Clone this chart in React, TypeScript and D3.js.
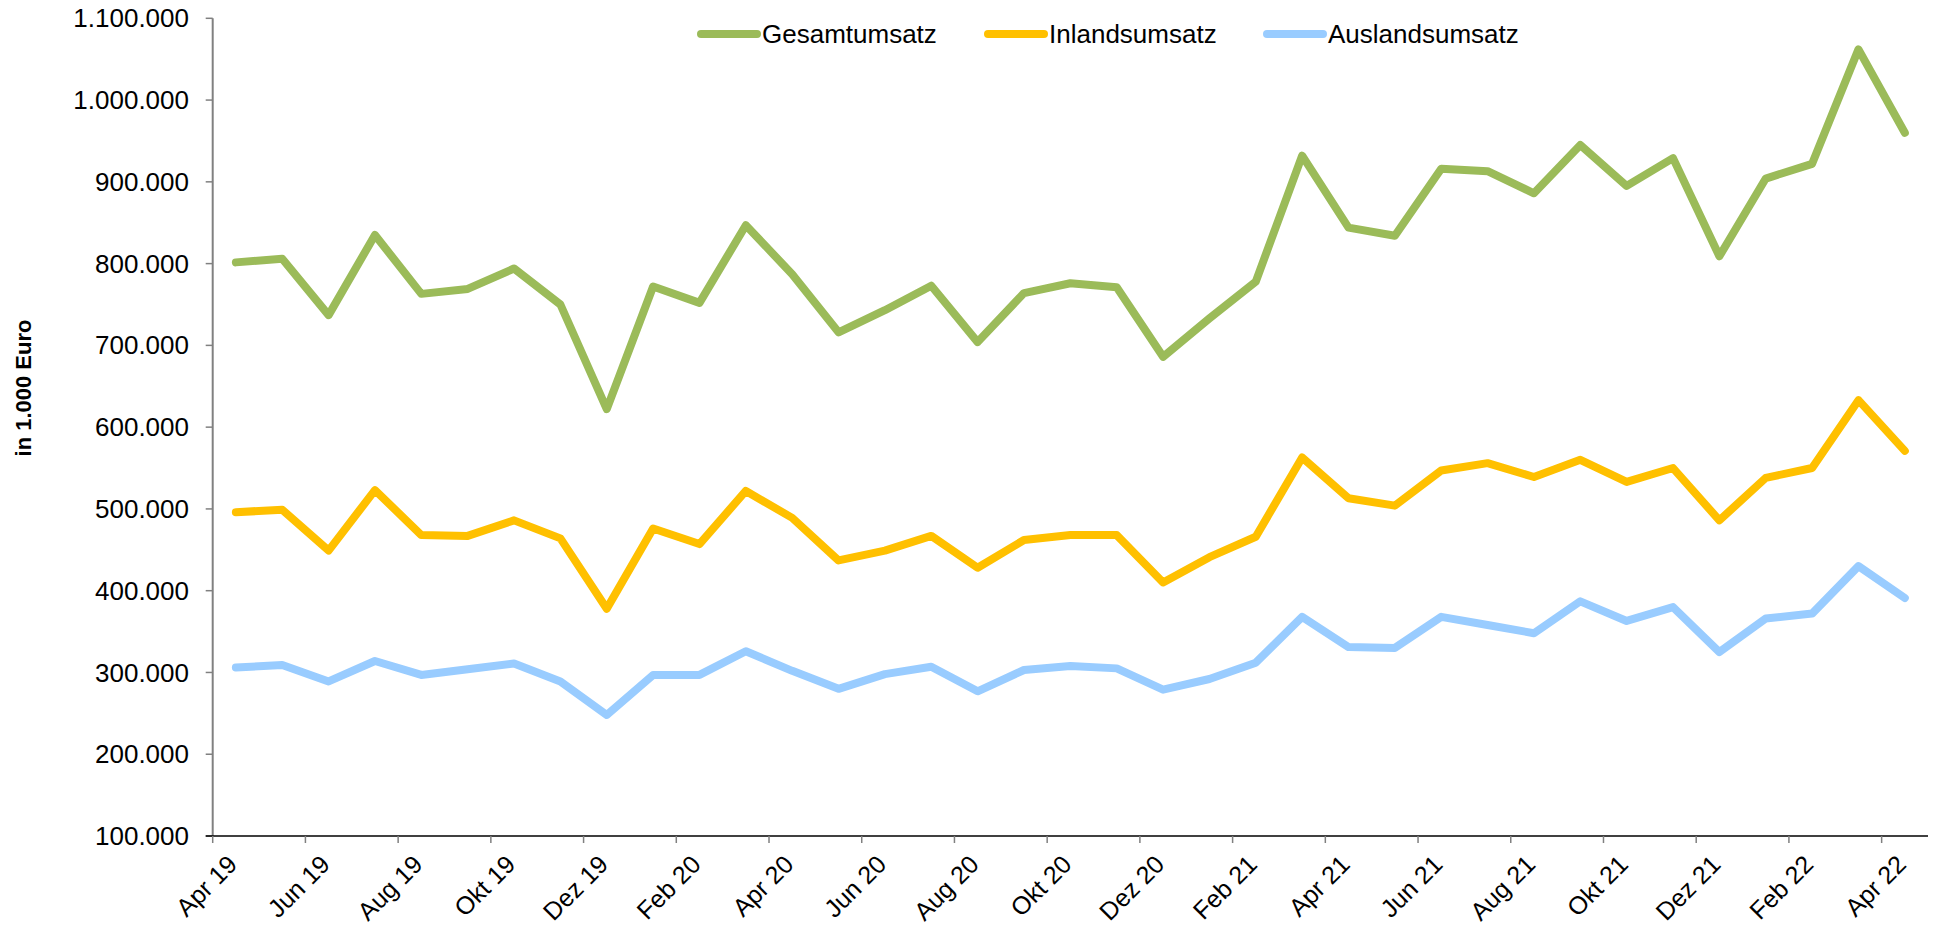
import React from "react";
import * as d3 from "d3";

const months = [
  "Apr 19","Mai 19","Jun 19","Jul 19","Aug 19","Sep 19","Okt 19","Nov 19","Dez 19",
  "Jan 20","Feb 20","Mär 20","Apr 20","Mai 20","Jun 20","Jul 20","Aug 20","Sep 20","Okt 20","Nov 20","Dez 20",
  "Jan 21","Feb 21","Mär 21","Apr 21","Mai 21","Jun 21","Jul 21","Aug 21","Sep 21","Okt 21","Nov 21","Dez 21",
  "Jan 22","Feb 22","Mär 22","Apr 22",
];

const gesamtumsatz = [
  801.5, 806, 737, 835, 763, 769, 794, 750, 622,
  772, 752, 847, 787, 716, 743, 773, 704, 764, 776, 771, 686,
  733, 778, 932, 844, 834, 916, 913, 886, 945, 895, 929, 809,
  904, 922, 1062, 960,
].map((v) => v * 1000);

const inlandsumsatz = [
  496, 499, 449, 523, 468, 467, 486, 464, 378,
  476, 457, 522, 489, 437, 449, 467, 428, 462, 468, 468, 410,
  441, 466, 563, 513, 504, 547, 556, 539, 560, 533, 550, 486,
  538, 550, 633, 571,
].map((v) => v * 1000);

const auslandsumsatz = [
  306, 309, 289, 314, 297, 304, 311, 289, 248,
  297, 297, 326, 302, 280, 298, 307, 277, 303, 308, 305, 279,
  292, 312, 368, 331, 330, 368, 358, 348, 387, 363, 380, 325,
  366, 372, 430, 391,
].map((v) => v * 1000);

const yTicks = [100000, 200000, 300000, 400000, 500000, 600000, 700000, 800000, 900000, 1000000, 1100000];
const seriesNames = ["Gesamtumsatz", "Inlandsumsatz", "Auslandsumsatz"];
const seriesColors = ["#9BBB59", "#FFC000", "#99CCFF"];

const W = 1933;
const H = 929;
const left = 212.7;
const right = 1928;
const top = 18.3;
const bottom = 836;

const fmtDe = (v: number) => {
  const s = Math.round(v).toString();
  return s.replace(/\B(?=(\d{3})+(?!\d))/g, ".");
};

export default function App() {
  const x = d3.scaleBand<string>().domain(months).range([left, right]).paddingInner(0).paddingOuter(0);
  const y = d3.scaleLinear().domain([100000, 1100000]).range([bottom, top]);
  const line = d3
    .line<number>()
    .x((_, i) => (x(months[i]) as number) + x.bandwidth() / 2)
    .y((d) => y(d));
  const allSeries = [gesamtumsatz, inlandsumsatz, auslandsumsatz];
  const font = "Liberation Sans, Arial, sans-serif";
  const labelIdx = months.map((_, i) => i).filter((i) => i % 2 === 0);
  const legendX = [701, 988, 1267];

  return (
    <svg
      width={W}
      height={H}
      style={{ position: "fixed", left: 0, top: 0, background: "#fff" }}
      fontFamily={font}
    >
      {/* y axis */}
      <line x1={left} x2={left} y1={top} y2={bottom} stroke="#808080" strokeWidth={2} />
      {yTicks.map((t) => (
        <g key={t}>
          <line x1={left - 7} x2={left} y1={y(t)} y2={y(t)} stroke="#808080" strokeWidth={1.5} />
          <text x={189} y={y(t)} dy="0.35em" textAnchor="end" fontSize={26} fill="#000">
            {fmtDe(t)}
          </text>
        </g>
      ))}
      {/* x axis */}
      <line x1={left - 7} x2={right} y1={bottom} y2={bottom} stroke="#000" strokeWidth={1.5} />
      {labelIdx.map((i) => {
        const tx = x(months[i]) as number;
        return (
          <g key={i}>
            <line x1={tx} x2={tx} y1={bottom} y2={bottom + 7} stroke="#808080" strokeWidth={1.5} />
            <text
              transform={`translate(${tx + 26},${bottom + 30}) rotate(-45)`}
              textAnchor="end"
              fontSize={25}
              fill="#000"
            >
              {months[i]}
            </text>
          </g>
        );
      })}
      {/* y title */}
      <text
        transform={`translate(${31},${388}) rotate(-90)`}
        textAnchor="middle"
        fontSize={22}
        fontWeight="bold"
        fill="#000"
      >
        in 1.000 Euro
      </text>
      {/* lines */}
      {allSeries.map((s, k) => (
        <path
          key={k}
          d={line(s) || ""}
          fill="none"
          stroke={seriesColors[k]}
          strokeWidth={8}
          strokeLinejoin="round"
          strokeLinecap="round"
        />
      ))}
      {/* legend */}
      {seriesNames.map((n, k) => (
        <g key={n}>
          <line
            x1={legendX[k]}
            x2={legendX[k] + 56}
            y1={34}
            y2={34}
            stroke={seriesColors[k]}
            strokeWidth={8}
            strokeLinecap="round"
          />
          <text x={legendX[k] + 61} y={34} dy="0.35em" fontSize={26} fill="#000">
            {n}
          </text>
        </g>
      ))}
    </svg>
  );
}
